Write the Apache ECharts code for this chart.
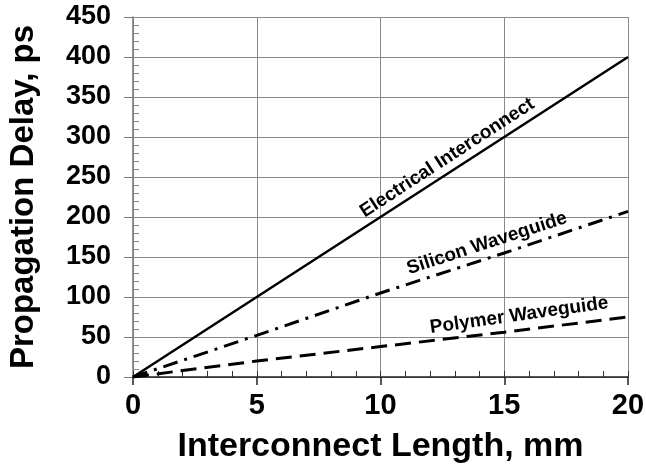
<!DOCTYPE html>
<html>
<head>
<meta charset="utf-8">
<script src="https://cdn.jsdelivr.net/npm/echarts@6/dist/echarts.min.js"></script>
<style>
  html, body { margin: 0; padding: 0; background: #fff; }
  #chart { width: 646px; height: 464px; }
</style>
</head>
<body>
<div id="chart"></div>
<script>
// Interconnect length (mm) sample points
const lengths = [0, 5, 10, 15, 20];
// Propagation delay (ps) for each interconnect type
const electrical = [0, 100, 200, 300, 400];
const silicon = [0, 52, 105, 155, 207];
const polymer = [0, 20, 38, 56, 75];
const seriesNames = ['Electrical Interconnect', 'Silicon Waveguide', 'Polymer Waveguide'];

const FONT = '"Liberation Sans", Arial, sans-serif';

function pairs(ys) {
  return lengths.map((x, i) => [x, ys[i]]);
}

// Rotated caption placed along a line, anchored in data coordinates
function caption(text, x, y, angle) {
  return {
    silent: true,
    symbol: 'circle',
    symbolSize: 1,
    itemStyle: { color: 'rgba(0,0,0,0)' },
    animation: false,
    label: {
      show: true,
      position: 'inside',
      formatter: text,
      rotate: angle,
      color: '#000',
      fontFamily: FONT,
      fontWeight: 'bold',
      fontSize: 19
    },
    data: [{ coord: [x, y] }]
  };
}

const chart = echarts.init(document.getElementById('chart'), null, { renderer: 'canvas' });

const baseX = { type: 'value', min: 0, max: 20, interval: 5, gridIndex: 0 };
const baseY = { type: 'value', min: 0, max: 450, interval: 50, gridIndex: 0 };

chart.setOption({
  animation: false,
  backgroundColor: '#fff',
  grid: { left: 133, right: 18, top: 17, bottom: 87, containLabel: false, outerBoundsMode: 'none' },
  xAxis: [
    Object.assign({}, baseX, {
      name: 'Interconnect Length, mm',
      nameLocation: 'middle',
      nameGap: 53,
      nameTextStyle: { color: '#000', fontFamily: FONT, fontWeight: 'bold', fontSize: 34 },
      axisLine: { show: true, lineStyle: { color: '#222', width: 1.5 } },
      axisTick: { show: true, inside: false, length: 8, lineStyle: { color: '#222', width: 1.5 } },
      axisLabel: { color: '#000', fontFamily: FONT, fontWeight: 'bold', fontSize: 29, margin: 14 },
      splitLine: { show: true, lineStyle: { color: '#888', width: 1 } }
    }),
    // minor ticks along the length axis, pointing into the plot
    Object.assign({}, baseX, {
      interval: 1,
      position: 'bottom',
      axisLine: { show: false },
      axisTick: { show: true, inside: true, length: 6, lineStyle: { color: '#333', width: 1 } },
      axisLabel: { show: false },
      splitLine: { show: false }
    })
  ],
  yAxis: [
    Object.assign({}, baseY, {
      name: 'Propagation Delay, ps',
      nameLocation: 'middle',
      nameGap: 93,
      nameTextStyle: { color: '#000', fontFamily: FONT, fontWeight: 'bold', fontSize: 33 },
      axisLine: { show: true, lineStyle: { color: '#777', width: 1.5 } },
      axisTick: { show: true, inside: false, length: 9, lineStyle: { color: '#777', width: 1 } },
      axisLabel: { color: '#000', fontFamily: FONT, fontWeight: 'bold', fontSize: 27, margin: 22, padding: [4, 0, 0, 0] },
      splitLine: { show: true, lineStyle: { color: '#888', width: 1 } }
    }),
    // minor ticks along the delay axis, pointing into the plot
    Object.assign({}, baseY, {
      interval: 10,
      position: 'left',
      axisLine: { show: false },
      axisTick: { show: true, inside: true, length: 6, lineStyle: { color: '#888', width: 1 } },
      axisLabel: { show: false },
      splitLine: { show: false }
    })
  ],
  series: [
    {
      name: seriesNames[0],
      type: 'line',
      xAxisIndex: 0, yAxisIndex: 0,
      data: pairs(electrical),
      showSymbol: false,
      lineStyle: { color: '#000', width: 2.5, type: 'solid' },
      markPoint: caption(seriesNames[0], 12.7, 274, 33)
    },
    {
      name: seriesNames[1],
      type: 'line',
      xAxisIndex: 0, yAxisIndex: 0,
      data: pairs(silicon),
      showSymbol: false,
      lineStyle: { color: '#000', width: 3, type: [15, 7, 3, 7] },
      markPoint: caption(seriesNames[1], 14.3, 167, 18)
    },
    {
      name: seriesNames[2],
      type: 'line',
      xAxisIndex: 0, yAxisIndex: 0,
      data: pairs(polymer),
      showSymbol: false,
      lineStyle: { color: '#000', width: 3, type: [16, 8] },
      markPoint: caption(seriesNames[2], 15.6, 77, 8)
    }
  ]
});
</script>
</body>
</html>
